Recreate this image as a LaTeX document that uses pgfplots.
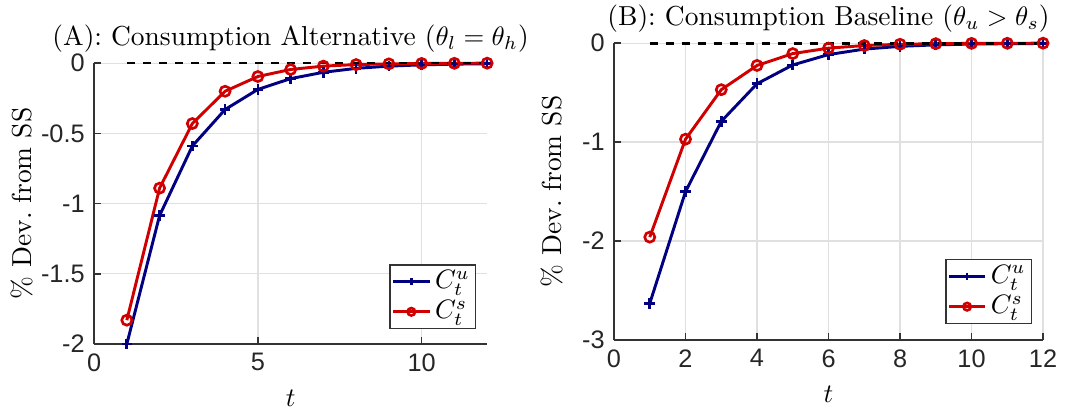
\documentclass[border=0pt]{standalone}
\usepackage{fontspec}
\usepackage{pgfplots}
\pgfplotsset{compat=1.18}
\newfontfamily\ticksf{Liberation Sans}
\definecolor{cblue}{rgb}{0,0,0.5}
\definecolor{cred}{rgb}{0.82,0,0}
\pgfplotsset{mystyle/.style={
  scale only axis,
  axis x line*=bottom, axis y line*=left,
  tick align=inside,
  major tick length=2.5pt,
  grid=major,
  major grid style={black!12, line width=0.5pt},
  axis line style={black!80, line width=0.6pt},
  major tick style={black!80, line width=0.6pt},
  tick label style={font=\ticksf\fontsize{9.5}{10}\selectfont, text=black!85},
  label style={font=\fontsize{10.3}{11}\selectfont},
  title style={font=\fontsize{10.3}{11}\selectfont, yshift=-5.5pt},
  clip=false,
  legend cell align=left,
  legend style={draw=black!80, fill=white, font=\fontsize{10.3}{11}\selectfont, inner sep=0.6pt, row sep=0pt, line width=0.5pt,
    nodes={inner sep=1.5pt}},
  legend image code/.code={\draw[mark repeat=2,mark phase=2, mark size=1.4pt] plot coordinates {(0cm,0cm)(0.24cm,0cm)(0.48cm,0cm)};},
  ublue/.style={cblue, line width=1.1pt, mark=+, mark size=2pt, mark options={solid, line width=1pt}},
  sred/.style={cred, line width=1.1pt, mark=o, mark size=1.9pt, mark options={solid, line width=1pt}},
}}
\begin{document}
\begin{tikzpicture}
\useasboundingbox (-35.3pt,-24pt) rectangle (364.7pt,129.1pt);
\begin{axis}[mystyle,
  at={(0,0)}, anchor=south west,
  width=147.5pt, height=105.4pt,
  xmin=0, xmax=12, ymin=-2, ymax=0,
  xtick={0,5,10}, xticklabels={0,5,10},
  ytick={-2,-1.5,-1,-0.5,0}, yticklabels={-2,-1.5,-1,-0.5,0},
  xlabel={$t$}, ylabel={\% Dev.\ from SS},
  ylabel style={at={(axis description cs:-0.132,0.5)}, anchor=south},
  title={(A): Consumption Alternative ($\theta_l = \theta_h$)},
  legend style={at={(0.972,0.053)}, anchor=south east},
]
\addplot[ublue] coordinates {(1,-2.0)(2,-1.085)(3,-0.59)(4,-0.33)(5,-0.187)(6,-0.11)(7,-0.065)(8,-0.037)(9,-0.021)(10,-0.012)(11,-0.007)(12,-0.004)};
\addlegendentry{$C_t^u$}
\addplot[sred] coordinates {(1,-1.83)(2,-0.89)(3,-0.43)(4,-0.20)(5,-0.095)(6,-0.045)(7,-0.021)(8,-0.01)(9,-0.005)(10,-0.002)(11,-0.001)(12,0)};
\addlegendentry{$C_t^s$}
\addplot[black, dashed, line width=1pt, forget plot] coordinates {(1,0)(12,0)};
\end{axis}
\begin{axis}[mystyle,
  at={(195.1pt,1.5pt)}, anchor=south west,
  width=161pt, height=111.4pt,
  xmin=0, xmax=12, ymin=-3, ymax=0,
  xtick={0,2,4,6,8,10,12}, xticklabels={0,2,4,6,8,10,12},
  ytick={-3,-2,-1,0}, yticklabels={-3,-2,-1,0},
  xlabel={$t$}, ylabel={\% Dev.\ from SS},
  ylabel style={at={(axis description cs:-0.098,0.5)}, anchor=south},
  title={(B): Consumption Baseline ($\theta_u > \theta_s$)},
  legend style={at={(0.974,0.054)}, anchor=south east},
]
\addplot[ublue] coordinates {(1,-2.63)(2,-1.50)(3,-0.79)(4,-0.41)(5,-0.22)(6,-0.115)(7,-0.06)(8,-0.032)(9,-0.017)(10,-0.009)(11,-0.005)(12,-0.003)};
\addlegendentry{$C_t^u$}
\addplot[sred] coordinates {(1,-1.96)(2,-0.97)(3,-0.47)(4,-0.225)(5,-0.105)(6,-0.05)(7,-0.024)(8,-0.011)(9,-0.005)(10,-0.002)(11,-0.001)(12,0)};
\addlegendentry{$C_t^s$}
\addplot[black, dashed, line width=1pt, forget plot] coordinates {(1,0)(12,0)};
\end{axis}
\end{tikzpicture}
\end{document}
